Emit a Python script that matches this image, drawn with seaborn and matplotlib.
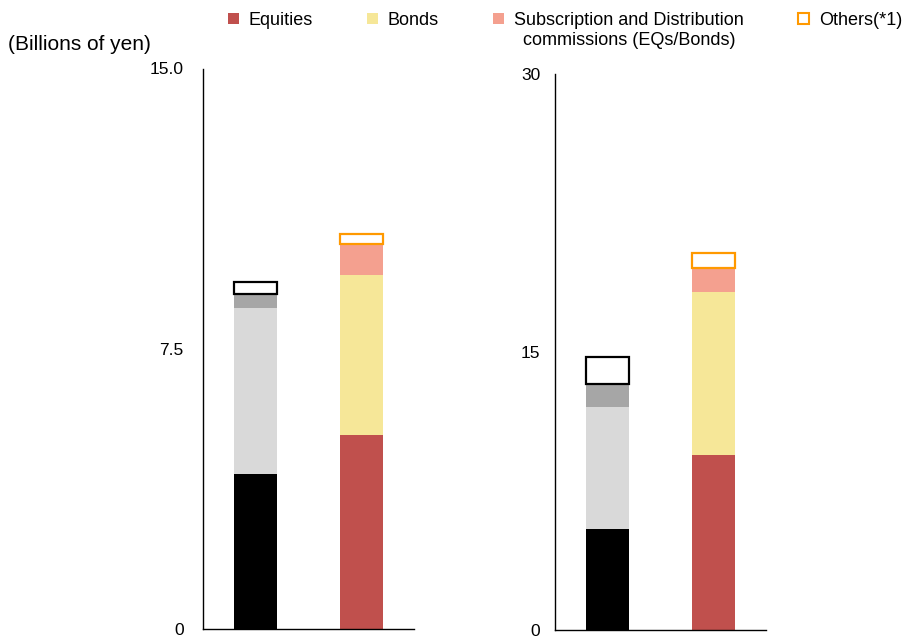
import matplotlib
matplotlib.use("Agg")
import matplotlib.pyplot as plt
from matplotlib.patches import Patch
import seaborn as sns

# bar categories (no labels shown on the x axis)
categories = ["Previous", "Current"]
segment_names = ["Equities", "Bonds",
                 "Subscription and Distribution", "Others(*1)"]
segment_note = "commissions (EQs/Bonds)"

# stacked segments, bottom to top (billions of yen)
left_previous = [4.15, 4.43, 0.38, 0.33]
left_current = [5.18, 4.29, 0.83, 0.28]
right_previous = [5.43, 6.62, 1.23, 1.45]
right_current = [9.43, 8.79, 1.30, 0.81]

left_ticks = [0, 7.5, 15.0]
left_tick_labels = ["0", "7.5", "15.0"]
right_ticks = [0, 15, 30]
right_tick_labels = ["0", "15", "30"]

previous_colors = ["#000000", "#D9D9D9", "#A6A6A6", "#000000"]
current_colors = ["#C0504D", "#F6E798", "#F4A08F", "#FF9900"]

sns.set_theme(style="white")
plt.rcParams["font.family"] = ["Liberation Sans", "DejaVu Sans"]
plt.rcParams["font.size"] = 12.5
plt.rcParams["text.color"] = "black"
plt.rcParams["xtick.color"] = "black"
plt.rcParams["ytick.color"] = "black"


def draw_stack(ax, values, cat, colors):
    # draw one stacked bar; last segment is an outline-only box
    bottom = 0.0
    for i, (v, c) in enumerate(zip(values, colors)):
        outline = i == len(values) - 1
        sns.barplot(x=[cat], y=[v], order=categories, bottom=bottom,
                    color=c, width=0.41, saturation=1, errorbar=None,
                    fill=not outline, edgecolor=c,
                    linewidth=1.6 if outline else 0, ax=ax)
        bottom += v


def style_axis(ax, ymax, ticks, labels, pad):
    ax.set_ylim(0, ymax)
    ax.set_xlim(-0.5, 1.5)
    ax.set_yticks(ticks)
    ax.set_yticklabels(labels)
    ax.set_xticks([0.5, 1.5])
    ax.set_xticklabels([])
    ax.set_xlabel("")
    ax.set_ylabel("")
    sns.despine(ax=ax)
    for side in ["left", "bottom"]:
        ax.spines[side].set_color("black")
        ax.spines[side].set_linewidth(1.0)
    ax.tick_params(axis="y", direction="in", length=4, width=1,
                   color="black", labelcolor="black", pad=pad,
                   labelsize=12.5)
    ax.tick_params(axis="x", direction="in", length=5, width=1,
                   color="black")


fig = plt.figure(figsize=(9.1, 6.36), dpi=100)
ax1 = fig.add_axes([203 / 910, 1 - 629 / 636, 211 / 910, 560.5 / 636])
ax2 = fig.add_axes([555 / 910, 1 - 630 / 636, 211 / 910, 556 / 636])

draw_stack(ax1, left_previous, categories[0], previous_colors)
draw_stack(ax1, left_current, categories[1], current_colors)
draw_stack(ax2, right_previous, categories[0], previous_colors)
draw_stack(ax2, right_current, categories[1], current_colors)

style_axis(ax1, 15.0, left_ticks, left_tick_labels, 14)
style_axis(ax2, 30, right_ticks, right_tick_labels, 10.5)

fig.text(8 / 910, 1 - 45 / 636, "(Billions of yen)", fontsize=15,
         ha="left", va="center", color="black")

handles = [Patch(facecolor=current_colors[0], edgecolor="none"),
           Patch(facecolor=current_colors[1], edgecolor="none"),
           Patch(facecolor=current_colors[2], edgecolor="none"),
           Patch(facecolor="white", edgecolor=current_colors[3], linewidth=1.5)]
leg = fig.legend(handles, segment_names, ncol=4, loc="upper left",
                 bbox_to_anchor=(228 / 910, 1 - 12 / 636), frameon=False,
                 handlelength=0.6, handleheight=0.6, handletextpad=0.55,
                 columnspacing=3.0, borderpad=0, borderaxespad=0,
                 fontsize=13, labelcolor="black")

# second line of the third legend entry, centred under the first line
fig.canvas.draw()
bb = leg.get_texts()[2].get_window_extent().transformed(fig.transFigure.inverted())
fig.text((bb.x0 + bb.x1) / 2, bb.y0 - 0.004, segment_note, fontsize=13,
         ha="center", va="top", color="black")

fig.savefig("out.png", dpi=100)
